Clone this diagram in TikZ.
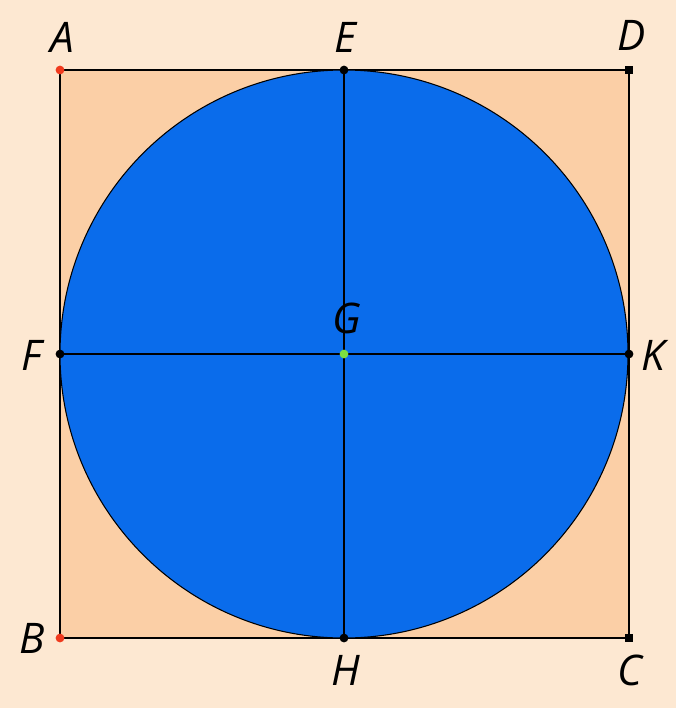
\documentclass[tikz,border=0pt]{standalone}
\usepackage{fontspec}
\setmainfont{Open Sans}
\usetikzlibrary{positioning}
\definecolor{sqBack}{HTML}{FDE8D2}
\definecolor{sqFill}{HTML}{FBCFA6}
\definecolor{sqDisk}{HTML}{0A6CEB}
\definecolor{sqRed}{HTML}{F03A1E}
\definecolor{sqGreen}{HTML}{7CE040}
\tikzset{
  sq diagram/.style={x=0.02cm, y=-0.02cm, line width=0.9pt,
    font=\fontsize{24}{28}\selectfont\itshape},
  sq point/.style={circle, inner sep=0pt, minimum size=5pt, fill=black},
  sq label/.style={inner sep=1pt}
}
\begin{document}
\begin{tikzpicture}[sq diagram]
\fill[sqBack] (0,0) rectangle (676,708);
\useasboundingbox (0,0) rectangle (676,708);
% points
\coordinate (A) at (60,70);
\coordinate (D) at (629,70);
\coordinate (B) at (60,638);
\coordinate (C) at (629,638);
\coordinate (E) at (344,70);
\coordinate (H) at (344,638);
\coordinate (F) at (60,354);
\coordinate (K) at (629,354);
\coordinate (G) at (344,354);
% square and disk
\filldraw[fill=sqFill, draw=black] (A) -- (D) -- (C) -- (B) -- cycle;
\filldraw[fill=sqDisk, draw=black, line width=0.6pt] (G) circle (284);
\draw (E) -- (H);
\draw (F) -- (K);
% marks
\foreach \p in {E,F,H,K}
  \node[sq point] at (\p) {};
\foreach \p in {D,C}
  \node[fill=black, inner sep=0pt, minimum size=5pt] at (\p) {};
\foreach \p in {A,B}
  \node[sq point, fill=sqRed] at (\p) {};
\node[sq point, fill=sqGreen] at (G) {};
% labels
\node[sq label] (labA) at (62,37) {A};
\node[sq label] (labE) at (345,37) {E};
\node[sq label] (labD) at (632,35) {D};
\node[sq label] (labG) at (347,318) {G};
\node[sq label] (labF) at (32,355) {F};
\node[sq label] (labK) at (653,355) {K};
\node[sq label] (labB) at (32,638) {B};
\node[sq label] (labH) at (346,670) {H};
\node[sq label] (labC) at (630,670) {C};
\end{tikzpicture}
\end{document}
